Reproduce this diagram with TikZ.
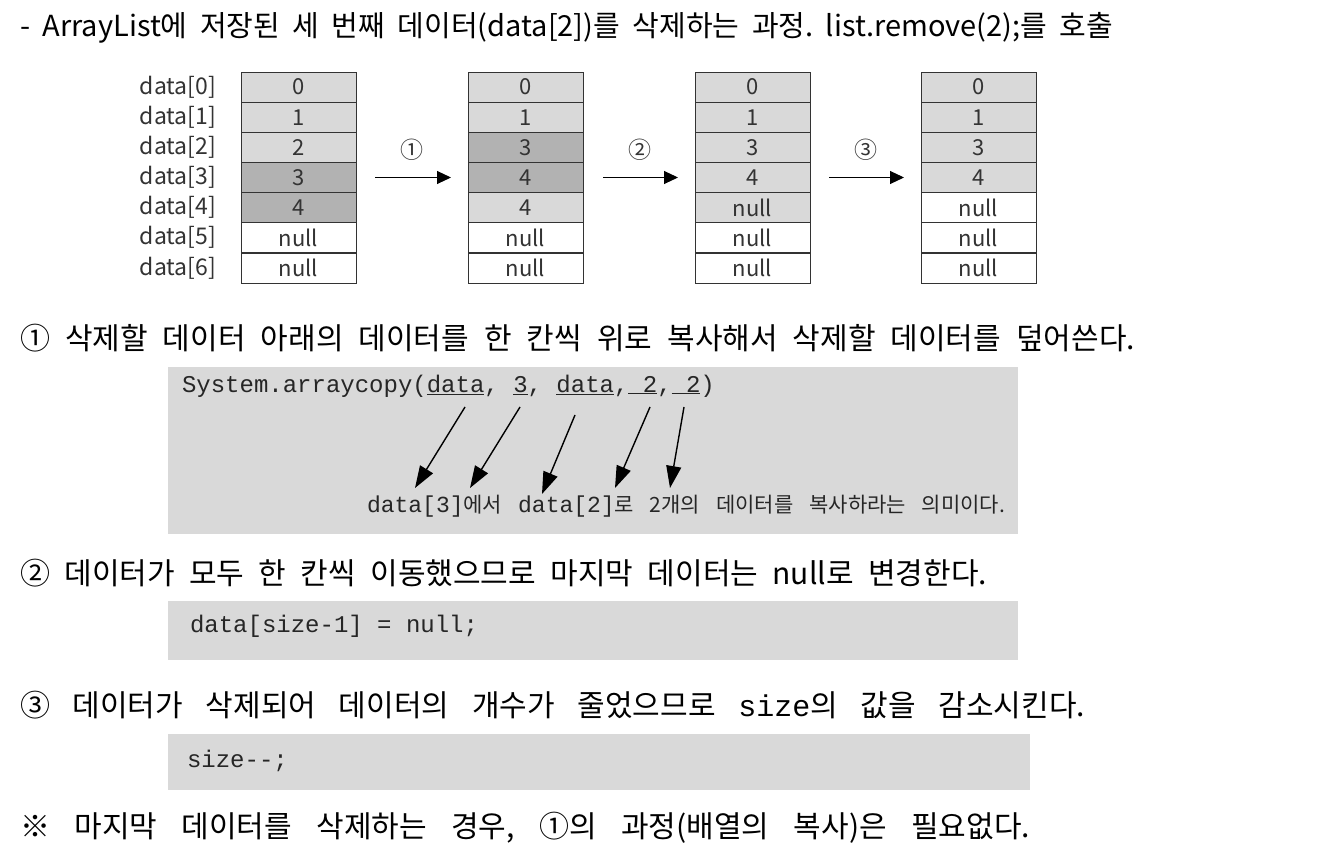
\documentclass[tikz,border=0pt]{standalone}
\usepackage{fontspec}
\setmainfont{Noto Sans CJK KR}
\newfontfamily\krfont{Noto Sans CJK KR}
\newfontfamily\codefont{Liberation Mono}
\usetikzlibrary{arrows.meta}
\definecolor{lightcell}{gray}{0.85}
\definecolor{darkcell}{gray}{0.70}
\definecolor{codebg}{gray}{0.85}
\frenchspacing

\begin{document}
\begin{tikzpicture}[x=1pt,y=-1pt,every node/.style={inner sep=0pt,outer sep=0pt},
cell/.style={draw=black!80,line width=0.8pt,minimum width=115pt,minimum height=30.15pt,text=black!80,font=\krfont\fontsize{22}{22}\selectfont},
lt/.style={cell,fill=lightcell},dk/.style={cell,fill=darkcell},wt/.style={cell,fill=white},
idx/.style={anchor=east,text=black!80,font=\krfont\fontsize{23}{23}\selectfont},
num/.style={text=black!80,font=\krfont\fontsize{23}{23}\selectfont},
line/.style={anchor=west,font=\krfont\fontsize{30}{32}\selectfont},
codebox/.style={fill=codebg,anchor=north west},
code/.style={anchor=west,text=black!85,font=\codefont\fontsize{24}{26}\selectfont},
move/.style={-{Triangle[length=14pt,width=13pt]},line width=1pt},
point/.style={-{Triangle[length=22pt,width=15pt]},line width=1.4pt}]
\useasboundingbox (0,0) rectangle (1324,866);
% title
\node[line,font=\krfont\fontsize{29}{30}\selectfont] (title) at (20,28) {\makebox[1093pt][s]{- ArrayList에 저장된 세 번째 데이터(data[2])를 삭제하는 과정. list.remove(2);를 호출}};
% index labels
\node[idx] (l0) at (216,87.1) {data[0]};\node[idx] (l1) at (216,117.2) {data[1]};
\node[idx] (l2) at (216,147.4) {data[2]};\node[idx] (l3) at (216,177.5) {data[3]};
\node[idx] (l4) at (216,207.7) {data[4]};\node[idx] (l5) at (216,237.8) {data[5]};
\node[idx] (l6) at (216,268.0) {data[6]};
% arrays
\node[lt] (a0) at (298.5,87.1) {0};\node[lt] (a1) at (298.5,117.2) {1};\node[lt] (a2) at (298.5,147.4) {2};
\node[dk] (a3) at (298.5,177.5) {3};\node[dk] (a4) at (298.5,207.7) {4};
\node[wt] (a5) at (298.5,237.8) {null};\node[wt] (a6) at (298.5,268.0) {null};
\node[lt] (b0) at (525.5,87.1) {0};\node[lt] (b1) at (525.5,117.2) {1};\node[dk] (b2) at (525.5,147.4) {3};
\node[dk] (b3) at (525.5,177.5) {4};\node[lt] (b4) at (525.5,207.7) {4};
\node[wt] (b5) at (525.5,237.8) {null};\node[wt] (b6) at (525.5,268.0) {null};
\node[lt] (c0) at (752.5,87.1) {0};\node[lt] (c1) at (752.5,117.2) {1};\node[lt] (c2) at (752.5,147.4) {3};
\node[lt] (c3) at (752.5,177.5) {4};\node[lt] (c4) at (752.5,207.7) {null};
\node[wt] (c5) at (752.5,237.8) {null};\node[wt] (c6) at (752.5,268.0) {null};
\node[lt] (d0) at (978.5,87.1) {0};\node[lt] (d1) at (978.5,117.2) {1};\node[lt] (d2) at (978.5,147.4) {3};
\node[lt] (d3) at (978.5,177.5) {4};\node[wt] (d4) at (978.5,207.7) {null};
\node[wt] (d5) at (978.5,237.8) {null};\node[wt] (d6) at (978.5,268.0) {null};
% steps
\node[num] (one) at (412,150) {①};\node[num] (two) at (640,150) {②};\node[num] (three) at (866,150) {③};
\draw[move] ([xshift=19pt]a3.east)--([xshift=-17pt]b3.west);
\draw[move] ([xshift=20pt]b3.east)--([xshift=-17pt]c3.west);
\draw[move] ([xshift=19pt]c3.east)--([xshift=-17pt]d3.west);
% step 1
\node[line] (first) at (20,338) {\makebox[1115pt][s]{① 삭제할 데이터 아래의 데이터를 한 칸씩 위로 복사해서 삭제할 데이터를 덮어쓴다.}};
\node[codebox,minimum width=850pt,minimum height=167pt] (box1) at (168,367) {};
\node[code] (call) at (182,386) {System.arraycopy(\underline{data}, \underline{3}, \underline{data},\underline{~2},\underline{~2})};
\node[anchor=west,text=black!85,font=\krfont\fontsize{21}{22}\selectfont] (msg) at (367,506) {\makebox[638pt][s]{{\codefont\fontsize{23}{24}\selectfont data[3]}에서 {\codefont\fontsize{23}{24}\selectfont data[2]}로 2개의 데이터를 복사하라는 의미이다.}};
\coordinate (u1) at (465,407);\coordinate (u2) at (520,407);\coordinate (u3) at (575,415);
\coordinate (u4) at (650,407);\coordinate (u5) at (684,407);
\coordinate (t1) at (415,488);\coordinate (t2) at (470,488);\coordinate (t3) at (542,494);
\coordinate (t4) at (615,488);\coordinate (t5) at (670,488);
\draw[point] (u1)--(t1);\draw[point] (u2)--(t2);\draw[point] (u3)--(t3);
\draw[point] (u4)--(t4);\draw[point] (u5)--(t5);
% step 2
\node[line] (second) at (20,573) {\makebox[967pt][s]{② 데이터가 모두 한 칸씩 이동했으므로 마지막 데이터는 null로 변경한다.}};
\node[codebox,minimum width=850pt,minimum height=59pt] (box2) at (168,601) {};
\node[code] (clear) at (190,626) {data[size-1] = null;};
% step 3
\node[line] (third) at (20,705) {\makebox[1065pt][s]{③ 데이터가 삭제되어 데이터의 개수가 줄었으므로 {\codefont size}의 값을 감소시킨다.}};
\node[codebox,minimum width=862pt,minimum height=56pt] (box3) at (168,734) {};
\node[code] (shrink) at (187,761) {size--;};
% note
\node[line] (note) at (20,828) {\makebox[1010pt][s]{※ 마지막 데이터를 삭제하는 경우, ①의 과정(배열의 복사)은 필요없다.}};
\end{tikzpicture}
\end{document}
